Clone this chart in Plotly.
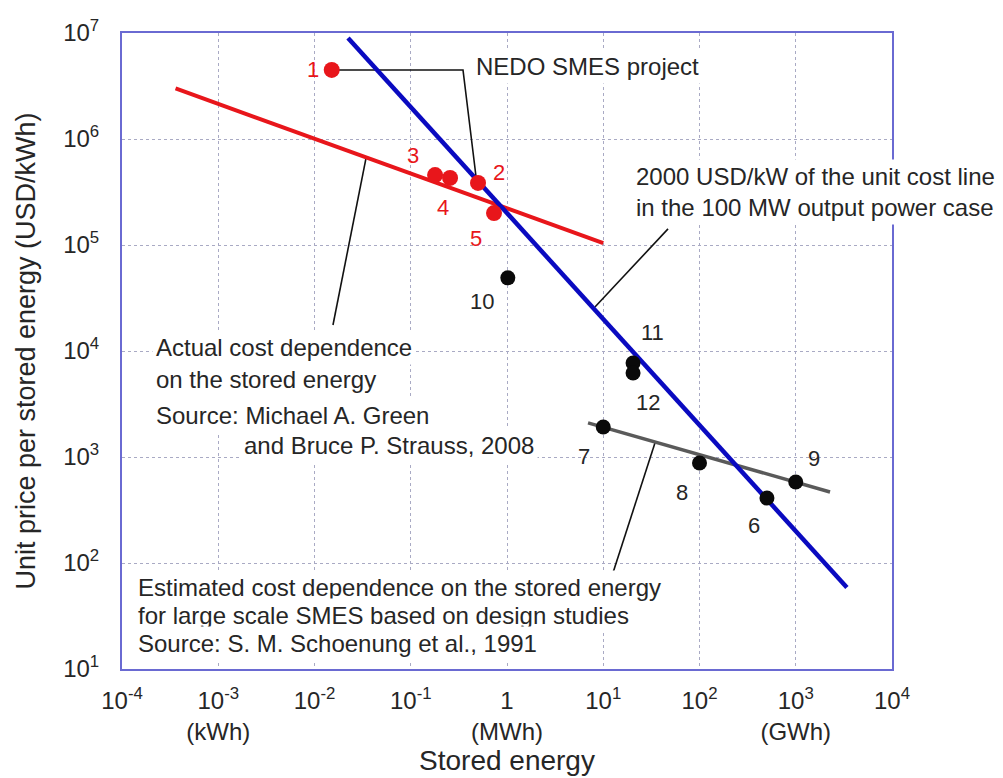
import math
import plotly.graph_objects as go

# ---------------- data (stored energy in MWh, unit price in USD/kWh) ----------------
nedo_labels = ["1", "2", "3", "4", "5"]
nedo_energy = [0.0151, 0.50, 0.179, 0.256, 0.733]
nedo_price = [4.48e6, 3.85e5, 4.57e5, 4.29e5, 2.0e5]

design_labels = ["6", "7", "8", "9", "10", "11", "12"]
design_energy = [502, 10, 100, 1000, 1.02, 20.4, 20.4]
design_price = [410, 1920, 877, 581, 4.9e4, 7.7e3, 6.2e3]

# 2000 USD/kW unit cost line (100 MW output power case)
unit_cost_energy = [0.0223, 3400]
unit_cost_price = [8.97e6, 58.8]

# actual cost dependence (Green & Strauss, 2008)
actual_energy = [3.6e-4, 10]
actual_price = [3.0e6, 1.04e5]

# estimated cost dependence (Schoenung et al., 1991)
estimated_energy = [6.95, 2270]
estimated_price = [2.1e3, 468]

# leader lines of the callouts
nedo_leader_energy = [0.0151, 0.349, 0.477]
nedo_leader_price = [4.48e6, 4.48e6, 4.38e5]
actual_leader_energy = [0.0343, 0.01556]
actual_leader_price = [6.6e5, 1.76e4]
unit_leader_energy = [47.1, 8.2]
unit_leader_price = [1.42e5, 2.6e4]
estimated_leader_energy = [34.5, 12.6]
estimated_leader_price = [1.36e3, 80.5]

x_tickvals = [1e-4, 1e-3, 1e-2, 1e-1, 1, 10, 100, 1000, 10000]
x_ticktext = ["10<sup>-4</sup>", "10<sup>-3</sup><br>(kWh)", "10<sup>-2</sup>",
              "10<sup>-1</sup>", "1<br>(MWh)", "10<sup>1</sup>", "10<sup>2</sup>",
              "10<sup>3</sup><br>(GWh)", "10<sup>4</sup>"]
y_tickvals = [1e1, 1e2, 1e3, 1e4, 1e5, 1e6, 1e7]
y_ticktext = ["10<sup>1</sup>", "10<sup>2</sup>", "10<sup>3</sup>", "10<sup>4</sup>",
              "10<sup>5</sup>", "10<sup>6</sup>", "10<sup>7</sup>"]

# label offsets (px) of the point numbers
nedo_label_shift = {"1": (-19, 0), "2": (21, 10), "3": (-22, 20), "4": (-7, -30), "5": (-18, -25)}
design_label_shift = {"6": (-13, -27), "7": (-19, -30), "8": (-18, -29), "9": (18, 24),
                      "10": (-26, -24), "11": (19, 31), "12": (15, -29)}

FONT = "Liberation Sans, Arial, sans-serif"
TXT = "#262626"
RED = "#e8161b"
BLUE = "#0a0ac0"
GRAY = "#5a5a5a"
FRAME = "#6a6ad2"
GRID = "#a9aac4"

# page body has an 8px margin: compensate so the plot area lands at 122..892 x 33..669
OFF = 8
W, H = 1003 - OFF, 778 - OFF
PL, PR, PT, PB = 122, 892, 33, 669
L, T = PL - OFF, PT - OFF
R, B = W - (PR - OFF), H - (PB - OFF)


def px(x):
    return (x - PL) / (PR - PL)


def py(y):
    return (PB - y) / (PB - PT)


fig = go.Figure()

line_style = dict(color="#111111", width=1.6)
for ex, ey in [(nedo_leader_energy, nedo_leader_price),
               (actual_leader_energy, actual_leader_price),
               (unit_leader_energy, unit_leader_price),
               (estimated_leader_energy, estimated_leader_price)]:
    fig.add_trace(go.Scatter(x=ex, y=ey, mode="lines", line=line_style,
                             hoverinfo="skip", showlegend=False))

fig.add_trace(go.Scatter(x=actual_energy, y=actual_price, mode="lines",
                         line=dict(color=RED, width=4), showlegend=False))
fig.add_trace(go.Scatter(x=estimated_energy, y=estimated_price, mode="lines",
                         line=dict(color=GRAY, width=3.5), showlegend=False))
fig.add_trace(go.Scatter(x=unit_cost_energy, y=unit_cost_price, mode="lines",
                         line=dict(color=BLUE, width=4.5), showlegend=False))

fig.add_trace(go.Scatter(x=nedo_energy, y=nedo_price, mode="markers",
                         marker=dict(color=RED, size=16, line=dict(width=0)),
                         showlegend=False))
fig.add_trace(go.Scatter(x=design_energy, y=design_price, mode="markers",
                         marker=dict(color="#0a0a0a", size=15, line=dict(width=0)),
                         showlegend=False))

annotations = []
for lab, ex, ey in zip(nedo_labels, nedo_energy, nedo_price):
    dx, dy = nedo_label_shift[lab]
    annotations.append(dict(x=math.log10(ex), y=math.log10(ey), xref="x", yref="y",
                            text=lab, showarrow=False, xshift=dx, yshift=dy,
                            font=dict(family=FONT, size=22, color=RED)))
for lab, ex, ey in zip(design_labels, design_energy, design_price):
    dx, dy = design_label_shift[lab]
    annotations.append(dict(x=math.log10(ex), y=math.log10(ey), xref="x", yref="y",
                            text=lab, showarrow=False, xshift=dx, yshift=dy,
                            font=dict(family=FONT, size=22, color=TXT)))

text_blocks = [
    ("NEDO SMES project", 472, 66),
    ("2000 USD/kW of the unit cost line<br>in the 100 MW output power case", 632, 192),
    ("Actual cost dependence", 152, 347),
    ("on the stored energy", 152, 380),
    ("Source: Michael A. Green", 152, 416),
    ("and Bruce P. Strauss, 2008", 240, 445),
    ("Estimated cost dependence on the stored energy", 134, 587),
    ("for large scale SMES based on design studies", 134, 615),
    ("Source: S. M. Schoenung et al., 1991", 134, 643),
]
for text, x0, yc in text_blocks:
    annotations.append(dict(x=px(x0), y=py(yc), xref="paper", yref="paper",
                            xanchor="left", yanchor="middle", align="left",
                            text=text, showarrow=False, bgcolor="white", borderpad=3,
                            font=dict(family=FONT, size=24, color=TXT)))

fig.update_layout(
    width=W, height=H,
    margin=dict(l=L, r=R, t=T, b=B, autoexpand=False),
    paper_bgcolor="white", plot_bgcolor="white",
    font=dict(family=FONT, size=24, color=TXT),
    annotations=annotations,
)
fig.update_xaxes(
    type="log", range=[-4, 4], tickvals=x_tickvals, ticktext=x_ticktext,
    tickfont=dict(family=FONT, size=24, color=TXT), ticklabelstandoff=9,
    showgrid=True, gridcolor=GRID, gridwidth=1, griddash="3px,3px",
    showline=True, linecolor=FRAME, linewidth=2, mirror=True,
    ticks="", zeroline=False,
    title=dict(text="Stored energy", font=dict(family=FONT, size=28, color=TXT), standoff=6),
)
fig.update_yaxes(
    type="log", range=[1, 7], tickvals=y_tickvals, ticktext=y_ticktext,
    tickfont=dict(family=FONT, size=24, color=TXT), ticklabelstandoff=16,
    showgrid=True, gridcolor=GRID, gridwidth=1, griddash="3px,3px",
    showline=True, linecolor=FRAME, linewidth=2, mirror=True,
    ticks="", zeroline=False,
    title=dict(text="Unit price per stored energy (USD/kWh)",
               font=dict(family=FONT, size=27, color=TXT), standoff=20),
)

fig.write_html("out.html")
